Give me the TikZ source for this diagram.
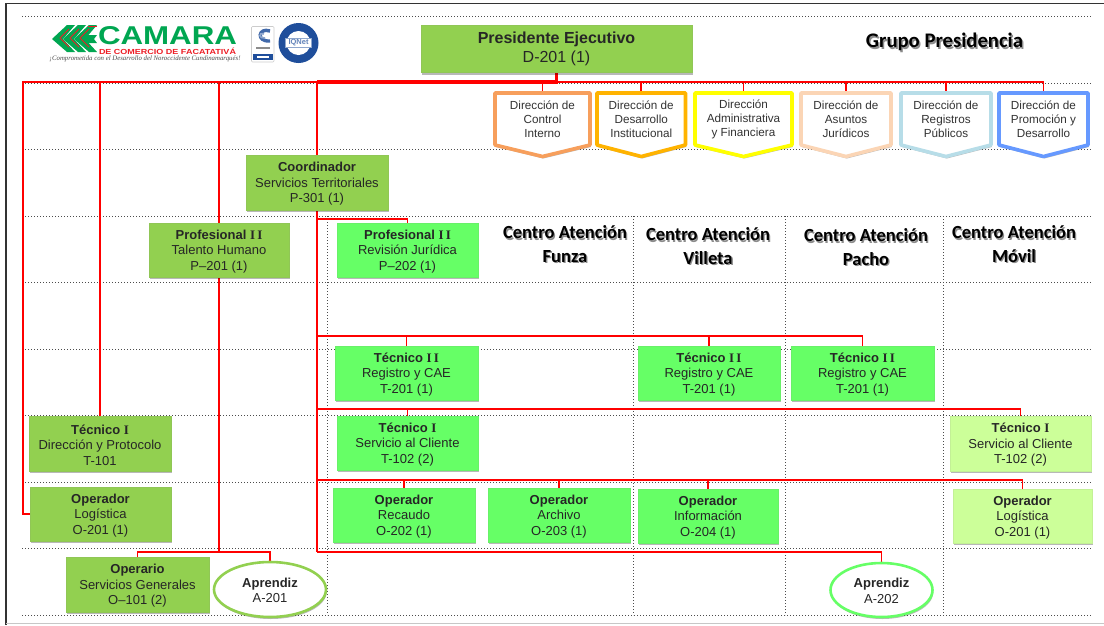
\documentclass[tikz,border=0pt]{standalone}
\usepackage{fontspec}
\usepackage{graphicx}
\setmainfont{Liberation Sans}
\newfontfamily\headfont{Carlito}
\newfontfamily\tagfont{Liberation Serif}
\usetikzlibrary{shadows,backgrounds,shapes.geometric}
\definecolor{cOlive}{HTML}{92D050}
\definecolor{cBright}{HTML}{66FF66}
\definecolor{cPale}{HTML}{CCFF99}
\definecolor{cLogoG}{HTML}{00A651}
\definecolor{cLogoR}{HTML}{ED1C24}
\definecolor{cBlueB}{HTML}{1F4E9B}
\definecolor{sA}{HTML}{F79F5C}
\definecolor{sB}{HTML}{FFB300}
\definecolor{sC}{HTML}{FFFF00}
\definecolor{sD}{HTML}{FBD5B5}
\definecolor{sE}{HTML}{B7DDE8}
\definecolor{sF}{HTML}{6699FF}
\tikzset{
  x=1pt,y=-1pt,
  softshadow/.style={drop shadow={shadow xshift=0.8pt,shadow yshift=-2pt,opacity=.28,fill=black}},
  rolebox/.style={fill=#1,draw=#1!88!gray,line width=.5pt,inner sep=0pt,align=center,softshadow,font=\fontsize{13}{15.5}\selectfont,text=black!85},
  conn/.style={draw=red,line width=1.6pt,line join=miter},
  gridline/.style={draw=black!70,line width=.7pt,dash pattern=on .8pt off 2.2pt},
  dirtext/.style={inner sep=0pt,align=center,font=\fontsize{11.7}{14}\selectfont,text=black!80},
  heading/.style={inner sep=0pt,align=center,font=\headfont\bfseries\fontsize{18.5}{23.5}\selectfont},
  headshade/.style={heading,text=black!45},
  apprentice/.style={ellipse,fill=white,line width=2.6pt,draw=#1,inner sep=0pt,align=center,softshadow,font=\fontsize{13}{15.5}\selectfont,text=black!85},
  chev/.style={fill=cLogoG,draw=none},
  chevred/.style={draw=cLogoR,line width=1pt,fill=none},
}
\newcommand{\rI}{{\tagfont\bfseries I}}
\newcommand{\rII}{{\tagfont\bfseries I\,I}}
\newcommand{\rolenode}[8]{% name, colour, x1,y1,x2,y2, title, rest
  \node[rolebox=#2,minimum width={(#5-#3)*1pt},minimum height={(#6-#4)*1pt}] (#1) at ({(#3+#5)/2},{(#4+#6)/2}) {\rule{0pt}{12.6pt}\textbf{#7}\\#8};}
\newcommand{\shieldnode}[5]{% name, colour, x1,x2, text
  \path[draw=#2,fill=white,line width=3.6pt,line join=round,softshadow]
    (#3,93) -- (#4,93) -- (#4,145) -- ({(#3+#4)/2},156.5) -- (#3,145) -- cycle;
  \node[dirtext,minimum width={(#4-#3)*1pt},minimum height=55pt] (#1) at ({(#3+#4)/2},119.5) {#5};}
\newcommand{\headnode}[4]{% name, x, y, text
  \node[headshade] at (#2+1.3,#3+1.5) {#4};
  \node[heading] (#1) at (#2,#3) {#4};}
\begin{document}
\begin{tikzpicture}
\useasboundingbox (0,0) rectangle (1104,625);
% frame
\draw[black!80,line width=1.8pt] (6,625) -- (6,3.5) -- (1104,3.5);
\draw[black!22,line width=1.6pt] (6,623.6) -- (1104,623.6);
% logo
\foreach \dx in {0,11,22}{
  \fill[chev] (52+\dx,39) -- (67+\dx,25) -- (75+\dx,25) -- (63+\dx,39) -- (75+\dx,52) -- (67+\dx,52) -- cycle;
}
\fill[chev] (79,35) -- (97,35) -- (94,39) -- (97,43) -- (79,43) -- cycle;
\foreach \dx in {0,10,20}{
  \draw[chevred] (69+\dx,29) -- (60+\dx,38) -- (69+\dx,47);
}
\draw[cLogoR,line width=1pt] (88,26) -- (97,26);
\node[inner sep=0pt,text=cLogoG] (logoA) at (167.5,36) {\resizebox{139pt}{18pt}{\bfseries CAMARA}};
\node[inner sep=0pt,text=cLogoR] (logoB) at (167.5,51) {\resizebox{137pt}{6.5pt}{\bfseries DE COMERCIO DE FACATATIVÁ}};
\node[inner sep=0pt,text=black!70] (logoC) at (145,59) {\resizebox{191pt}{!}{\tagfont\itshape ¡Comprometida con el Desarrollo del Noroccidente Cundinamarqués!}};
% badges
\draw[rounded corners=1pt,draw=black!20,fill=white,line width=.6pt] (251.5,26.5) rectangle (274,62);
\draw[cBlueB!85,line width=3.4pt] (270,31) .. controls (258,27) and (256,42) .. (270,41);
\draw[cBlueB!50,line width=1.6pt] (264,34) .. controls (258,32) and (259,39) .. (265,38);
\fill[black!45] (256,47) rectangle (270,48.5);
\fill[cBlueB] (252.5,53.5) rectangle (273,60);
\fill[white] (257,55.6) rectangle (269,57.6);
\fill[cBlueB] (298.5,43) circle (20);
\fill[white] (298.5,43) circle (12);
\fill[cBlueB!50] (285,38) rectangle (312,48);
\fill[white] (286,39) rectangle (311,47);
\node[inner sep=0pt,text=cBlueB!70,font=\bfseries\fontsize{7.5}{8}\selectfont] (iqnet) at (298.5,43) {IQNet};
% title
\node[headshade,font=\headfont\bfseries\fontsize{20.7}{24}\selectfont] at (946,43.5) {Grupo Presidencia};
\node[heading,font=\headfont\bfseries\fontsize{20.7}{24}\selectfont] (grupo) at (944.5,42) {Grupo Presidencia};
% top node
\node[rolebox=cOlive,font=\fontsize{16}{19.5}\selectfont,minimum width=271pt,minimum height=47.5pt] (pres) at (556.5,48.75) {\textbf{Presidente Ejecutivo}\\D-201 (1)};
% directions
\shieldnode{dA}{sA}{495}{590}{Dirección de\\Control\\Interno}
\shieldnode{dB}{sB}{597}{685.5}{Dirección de\\Desarrollo\\Institucional}
\shieldnode{dC}{sC}{695}{792}{Dirección\\Administrativa\\y Financiera}
\shieldnode{dD}{sD}{801}{891}{Dirección de\\Asuntos\\Jurídicos}
\shieldnode{dE}{sE}{901}{991}{Dirección de\\Registros\\Públicos}
\shieldnode{dF}{sF}{999}{1088}{Dirección de\\Promoción y\\Desarrollo}
% roles
\rolenode{coord}{cOlive}{246}{155}{388}{210}{Coordinador}{Servicios Territoriales\\P-301 (1)}
\rolenode{talent}{cOlive}{149}{223}{289}{277}{Profesional \rII}{Talento Humano\\P--201 (1)}
\rolenode{profj}{cBright}{337}{223}{478}{277}{Profesional \rII}{Revisión Jurídica\\P--202 (1)}
\rolenode{tecA}{cBright}{335}{346}{478}{400}{Técnico \rII}{Registro y CAE\\T-201 (1)}
\rolenode{tecB}{cBright}{638}{346}{780}{400}{Técnico \rII}{Registro y CAE\\T-201 (1)}
\rolenode{tecC}{cBright}{791}{346}{934}{400}{Técnico \rII}{Registro y CAE\\T-201 (1)}
\rolenode{tdir}{cOlive}{29}{416}{171}{471}{Técnico \rI}{Dirección y Protocolo\\T-101}
\rolenode{tsvc}{cBright}{337}{416}{478}{470}{Técnico \rI}{Servicio al Cliente\\T-102 (2)}
\rolenode{tmov}{cPale}{950}{416}{1091}{471}{Técnico \rI}{Servicio al Cliente\\T-102 (2)}
\rolenode{ologi}{cOlive}{30}{487}{171}{541}{Operador}{Logística\\O-201 (1)}
\rolenode{orec}{cBright}{333}{488}{475}{542}{Operador}{Recaudo\\O-202 (1)}
\rolenode{oarc}{cBright}{488}{488}{630}{542}{Operador}{Archivo\\O-203 (1)}
\rolenode{oinf}{cBright}{638}{489}{778}{543}{Operador}{Información\\O-204 (1)}
\rolenode{omov}{cPale}{953}{489}{1092}{543}{Operador}{Logística\\O-201 (1)}
\rolenode{oper}{cOlive}{66}{557}{209}{612}{Operario}{Servicios Generales\\O--101 (2)}
\node[apprentice=cOlive,minimum width=112pt,minimum height=55pt] (apA) at (270,589.5) {\rule{0pt}{11.5pt}\textbf{Aprendiz}\\A-201};
\node[apprentice=cBright,minimum width=102pt,minimum height=54pt] (apB) at (881.5,590) {\rule{0pt}{11.5pt}\textbf{Aprendiz}\\A-202};
% headings
\headnode{cFunza}{565}{244}{Centro Atención\\Funza}
\headnode{cVilleta}{708}{246}{Centro Atención\\Villeta}
\headnode{cPacho}{866}{247}{Centro Atención\\Pacho}
\headnode{cMovil}{1014}{244}{Centro Atención\\Móvil}
% junctions
\coordinate (trunkA) at (23,82);
\coordinate (trunkB) at (100,82);
\coordinate (trunkM) at (219,82);
\coordinate (trunkD) at (317,82);
\coordinate (trunkR) at (1043.5,82);
\coordinate (hubM) at (219,552);
\coordinate (hubD) at (317,552);
\coordinate (busJ) at (317,219);
\coordinate (busT) at (317,336);
\coordinate (busS) at (317,409);
\coordinate (busO) at (317,480);
\begin{pgfonlayer}{background}
  \foreach \yy in {16,83,149,216,282,349,415,482,548,615}{\draw[gridline] (22,\yy) -- (1092,\yy);}
  \foreach \xx in {327,633,785,943}{\draw[gridline] (\xx,216) -- (\xx,615);}
  % connectors
  \draw[conn] (trunkD) -- (trunkA) |- (ologi.west);
  \draw[conn] (trunkB) -- (tdir.north);
  \draw[conn] (trunkM) -- (talent.north);
  \draw[conn] (talent.south) -- (hubM);
  \draw[conn] (hubM) -| (oper.north);
  \draw[conn] (hubM) -| (apA.north);
  \draw[conn] (trunkD) -- (coord.north);
  \draw[conn] (coord.south) -- (hubD);
  \draw[conn] (hubD) -| (apB.north);
  \draw[conn] (busJ) -| (profj.north);
  \draw[conn] (busT) -| (tecA.north);
  \draw[conn] (busT) -| (tecB.north);
  \draw[conn] (busT) -| (tecC.north);
  \draw[conn] (busS) -| (tsvc.north);
  \draw[conn] (busS) -| (tmov.north);
  \draw[conn] (busO) -| (orec.north);
  \draw[conn] (busO) -| (oarc.north);
  \draw[conn] (busO) -| (oinf.north);
  \draw[conn] (busO) -| (omov.north);
  \draw[conn] (trunkR) -- (pres.south |- trunkR);
  \draw[conn] (trunkR) -- (dF.north);
  \foreach \d in {dA,dB,dC,dD,dE}{\draw[conn] (\d.north |- trunkR) -- (\d.north);}
  \draw[conn,line width=3.6pt] (pres.south) |- (trunkD);
\end{pgfonlayer}
\end{tikzpicture}
\end{document}
